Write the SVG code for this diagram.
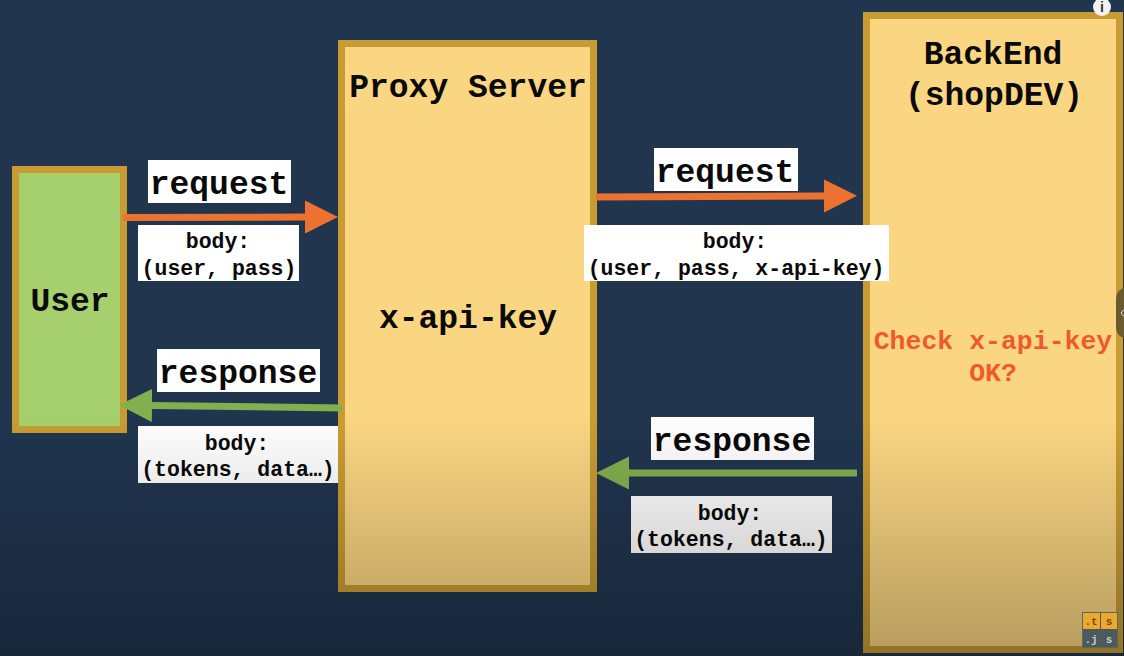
<svg xmlns="http://www.w3.org/2000/svg" width="1124" height="656" viewBox="0 0 1124 656">
<defs>
<linearGradient id="shade" x1="0" y1="0" x2="0" y2="1"><stop offset="0" stop-color="#000" stop-opacity="0"/><stop offset="1" stop-color="#000" stop-opacity=".27"/></linearGradient>
<marker id="ao" markerUnits="userSpaceOnUse" markerWidth="34" markerHeight="34" refX="1" refY="16.500" orient="auto"><path d="M0 0L33 16.500L0 33Z" fill="#ee722f"/></marker>
<marker id="ag" markerUnits="userSpaceOnUse" markerWidth="34" markerHeight="34" refX="1" refY="16.500" orient="auto"><path d="M0 0L33 16.500L0 33Z" fill="#82b04f"/></marker>
</defs>
<style>
text{font-family:"Liberation Mono","DejaVu Sans Mono",monospace;font-weight:700;text-anchor:middle;fill:#0a0a0a}
.big{font-size:33px}.small{font-size:21.5px}.red{font-size:26.500px;fill:#ee5a2e}.lab{fill:#fff}
.box{stroke:#c99c33;stroke-width:7}
.o{stroke:#ee722f;stroke-width:7;fill:none;marker-end:url(#ao)}
.g{stroke:#82b04f;stroke-width:7;fill:none;marker-end:url(#ag)}
.bt{font-size:11px;fill:#6b4d12}.bd{font-size:11px;fill:#ccc}
</style>
<rect width="1124" height="656" fill="#21354f"/>
<g id="user"><rect class="box" x="15.500" y="169.500" width="108" height="260" fill="#a6d06d"/><text class="big" x="70" y="311">User</text></g>
<g id="proxy"><rect class="box" x="341.500" y="43.500" width="252" height="545" fill="#fad682"/><text class="big" x="468" y="97">Proxy Server</text><text class="big" x="468" y="328">x-api-key</text></g>
<g id="backend"><rect class="box" x="866.500" y="15.500" width="253" height="634" fill="#fad682"/><text class="big" x="993" y="64">BackEnd</text><text class="big" x="994" y="105">(shopDEV)</text><text class="red" x="993" y="349">Check x-api-key</text><text class="red" x="993" y="381">OK?</text></g>
<g id="connectors">
<path class="o" d="M123 217.500L306 217"/>
<path class="o" d="M596 197L825 196"/>
<path class="g" d="M342 408L151 405.500"/>
<path class="g" d="M857 473L628 473"/>
</g>
<g id="label-request-1"><rect class="lab" x="148" y="160" width="143" height="43"/><text class="big" x="219" y="194">request</text></g>
<g id="label-body-1"><rect class="lab" x="138" y="225" width="161" height="56"/><text class="small" x="218" y="248">body:</text><text class="small" x="219" y="275">(user, pass)</text></g>
<g id="label-response-1"><rect class="lab" x="157" y="349" width="163" height="43"/><text class="big" x="238" y="383">response</text></g>
<g id="label-body-2"><rect class="lab" x="138" y="426" width="200" height="57"/><text class="small" x="237" y="450">body:</text><text class="small" x="238" y="476">(tokens, data…)</text></g>
<g id="label-request-2"><rect class="lab" x="654" y="148" width="144" height="43"/><text class="big" x="725" y="182">request</text></g>
<g id="label-body-3"><rect class="lab" x="584" y="225" width="305" height="56"/><text class="small" x="735" y="248">body:</text><text class="small" x="736" y="275">(user, pass, x-api-key)</text></g>
<g id="label-response-2"><rect class="lab" x="651" y="417" width="163" height="43"/><text class="big" x="732" y="451">response</text></g>
<g id="label-body-4"><rect class="lab" x="631" y="496" width="201" height="57"/><text class="small" x="730" y="520">body:</text><text class="small" x="731" y="546">(tokens, data…)</text></g>
<rect id="shade-overlay" x="0" y="415" width="1124" height="241" fill="url(#shade)"/>
<g id="badge"><rect x="1082.500" y="612.500" width="35" height="35" fill="#4b5a5c" stroke="#55686a"/><rect x="1083" y="613" width="17" height="16" fill="#eea92c"/><rect x="1101" y="613" width="16" height="16" fill="#eea92c"/><text class="bt" x="1091" y="625">.t</text><text class="bt" x="1109" y="625">s</text><text class="bd" x="1091" y="643">.j</text><text class="bd" x="1109" y="643">s</text></g>
<g id="info"><circle cx="1102" cy="7" r="9" fill="#f2f2f2"/><text x="1102" y="12" style="font-family:'Liberation Sans',sans-serif;font-size:14px;fill:#333">i</text></g>
<path id="handle" d="M1124 288C1118 290 1116 294 1116 300V326C1116 332 1118 336 1124 338Z" fill="#6b5a30"/>
<path id="handle-chevron" d="M1124 309.500L1121 313L1124 316.500" fill="none" stroke="#ddd" stroke-width="1"/>
</svg>
